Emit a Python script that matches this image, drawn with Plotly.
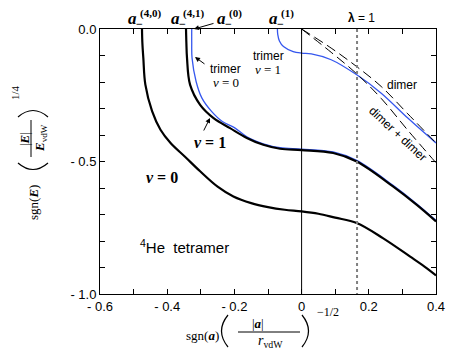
import plotly.graph_objects as go

# ── data ────────────────────────────────────────────────────────────
# tetramer v=0 (black, thick)
T0_X = [-0.475, -0.474, -0.471, -0.465, -0.445, -0.42, -0.39, -0.347, -0.302, -0.25,
        -0.203, -0.15, -0.1, -0.05, 0.0, 0.05, 0.1, 0.164, 0.243, 0.322, 0.372, 0.4]
T0_Y = [0.0, -0.05, -0.11, -0.21, -0.31, -0.38, -0.43, -0.482, -0.537, -0.595,
        -0.632, -0.657, -0.672, -0.682, -0.688, -0.697, -0.712, -0.732, -0.79, -0.858, -0.902, -0.93]

# tetramer v=1 (black, thick)
T1_X = [-0.344, -0.343, -0.341, -0.332, -0.302, -0.262, -0.213, -0.163, -0.114, -0.064,
        0.0, 0.094, 0.164, 0.272, 0.342, 0.4]
T1_Y = [0.0, -0.05, -0.11, -0.21, -0.286, -0.336, -0.374, -0.411, -0.437, -0.452,
        -0.457, -0.468, -0.5, -0.594, -0.663, -0.726]

# trimer v=0 (blue)
TR0_X = [-0.327, -0.327, -0.326, -0.314, -0.297, -0.268, -0.236, -0.2, -0.163, -0.114,
         -0.064, 0.0, 0.094, 0.164, 0.272, 0.342, 0.4]
TR0_Y = [0.0, -0.05, -0.11, -0.198, -0.26, -0.311, -0.349, -0.372, -0.407, -0.433,
         -0.448, -0.453, -0.464, -0.496, -0.59, -0.659, -0.722]

# trimer v=1 (blue)
TR1_X = [-0.072, -0.071, -0.066, -0.054, -0.025, 0.0, 0.029, 0.088, 0.163, 0.237, 0.316, 0.4]
TR1_Y = [0.0, -0.02, -0.045, -0.066, -0.085, -0.091, -0.094, -0.116, -0.172, -0.242, -0.336, -0.43]

# dimer and dimer + dimer thresholds (dashed)
DIM_X = [0.0, 0.088, 0.163, 0.237, 0.316, 0.4]
DIM_Y = [0.0, -0.072, -0.141, -0.217, -0.32, -0.43]
DD_X = [0.0, 0.088, 0.163, 0.237, 0.316, 0.4]
DD_Y = [0.0, -0.088, -0.168, -0.262, -0.382, -0.505]

LAMBDA1_X = 0.165

X_TICKS = [-0.6, -0.5, -0.4, -0.3, -0.2, -0.1, 0.0, 0.1, 0.2, 0.3, 0.4]
X_TEXT = ["- 0.6", "", "- 0.4", "", "- 0.2", "", "0", "", "0.2", "", "0.4"]
Y_TICKS = [0.0, -0.1, -0.2, -0.3, -0.4, -0.5, -0.6, -0.7, -0.8, -0.9, -1.0]
Y_TEXT = ["0.0", "", "", "", "", "- 0.5", "", "", "", "", "- 1.0"]

# page body adds an 8px margin, so the figure is drawn 8px smaller
OFF = 8
PLOT_W, PLOT_H = 336, 265
L, R, T, B = 100 - OFF, 27, 29 - OFF, 60
W, H = L + PLOT_W + R, T + PLOT_H + B
BLUE = "#3557ee"
SANS = "Liberation Sans, Arial, sans-serif"
SERIF = "Liberation Serif, Times New Roman, serif"


# pixel position in the reference picture -> paper coords (text placement only)
def px(x):
    return (x - OFF - L) / PLOT_W


def py(y):
    return (T + PLOT_H - (y - OFF)) / PLOT_H


fig = go.Figure()
fig.add_trace(go.Scatter(x=TR0_X, y=TR0_Y, mode="lines", line=dict(color=BLUE, width=1.3, shape="spline")))
fig.add_trace(go.Scatter(x=TR1_X, y=TR1_Y, mode="lines", line=dict(color=BLUE, width=1.3, shape="spline")))
fig.add_trace(go.Scatter(x=DIM_X, y=DIM_Y, mode="lines", line=dict(color="black", width=1, dash="10px,5px", shape="spline")))
fig.add_trace(go.Scatter(x=DD_X, y=DD_Y, mode="lines", line=dict(color="black", width=1, dash="10px,5px", shape="spline")))
fig.add_trace(go.Scatter(x=T1_X, y=T1_Y, mode="lines", line=dict(color="black", width=2.2, shape="spline")))
fig.add_trace(go.Scatter(x=T0_X, y=T0_Y, mode="lines", line=dict(color="black", width=2.2, shape="spline")))

fig.add_shape(type="line", x0=0, x1=0, y0=0, y1=-1, xref="x", yref="y", line=dict(color="black", width=1))
fig.add_shape(type="line", x0=LAMBDA1_X, x1=LAMBDA1_X, y0=0, y1=-1, xref="x", yref="y",
              line=dict(color="#808080", width=2, dash="dot"))

ann = []


def txt(x, y, text, size=12, family=SANS, angle=0, xanchor="center"):
    ann.append(dict(x=px(x), y=py(y), xref="paper", yref="paper", text=text, showarrow=False,
                    font=dict(size=size, family=family, color="black"), textangle=angle,
                    xanchor=xanchor, yanchor="middle", borderpad=0))


def arrow(tx, ty, hx, hy):
    ann.append(dict(x=px(hx), y=py(hy), ax=tx - hx, ay=ty - hy, xref="paper", yref="paper",
                    axref="pixel", ayref="pixel", text="", showarrow=True, arrowhead=2,
                    arrowsize=1, arrowwidth=1, arrowcolor="black"))


def curve(x0, y0, cx, cy, x1, y1, width=1.2):
    # a big bracket drawn as a quadratic curve, in reference pixels
    fig.add_shape(type="path", xref="paper", yref="paper",
                  path=f"M {px(x0)},{py(y0)} Q {px(cx)},{py(cy)} {px(x1)},{py(y1)}",
                  line=dict(color="black", width=width))


def bar(x0, y0, x1, y1):
    fig.add_shape(type="line", x0=px(x0), x1=px(x1), y0=py(y0), y1=py(y1), xref="paper", yref="paper",
                  line=dict(color="black", width=1))


# a_-^(n) labels above the frame
for ax_px, sup in [(132, "(4,0)"), (175, "(4,1)"), (221, "(0)"), (273, "(1)")]:
    txt(ax_px, 18, "<b><i>a</i></b>", size=17, family=SERIF)
    txt(ax_px + 7, 24, "<b>−</b>", size=12, family=SERIF)
    txt(ax_px + 7, 13, "<b>" + sup + "</b>", size=11, family=SERIF, xanchor="left")
arrow(215, 23, 194, 29)
txt(361, 18, "<b>λ</b> = 1", size=12)

txt(225, 69, "trimer", size=12)
txt(226, 83, "<i>v</i> = 0", size=13, family=SERIF)
arrow(206, 65, 195, 57)
txt(268, 56, "trimer", size=12)
txt(268, 70, "<i>v</i> = 1", size=13, family=SERIF)

txt(210, 142, "<b><i>v</i> = 1</b>", size=16, family=SERIF)
arrow(203, 132, 210, 118)
txt(162, 177, "<b><i>v</i> = 0</b>", size=16, family=SERIF)
txt(184, 246, "<sup>4</sup>He  tetramer", size=15)
txt(402, 85, "dimer", size=12)
txt(398, 134, "dimer + dimer", size=12, angle=43)

# x-axis title: sgn(a) (|a| / r_vdW)^(-1/2)
txt(202, 335, "sgn(<b><i>a</i></b>)", size=13, family=SERIF)
curve(228, 315, 215, 331, 228, 347)
txt(258, 323, "|<b><i>a</i></b>|", size=13, family=SERIF)
bar(238, 332, 300, 332)
txt(270, 341, "<i>r</i><sub>vdW</sub>", size=14, family=SERIF)
curve(302, 315, 315, 331, 302, 347)
txt(328, 312, "−1/2", size=12, family=SERIF)

# y-axis title: sgn(E) (|E| / E_vdW)^(1/4), rotated
txt(33, 203, "sgn(<b><i>E</i></b>)", size=13, family=SERIF, angle=-90)
curve(18, 163, 33, 176, 48, 163)
txt(24, 139, "|<b><i>E</i></b>|", size=13, family=SERIF, angle=-90)
bar(31, 120, 31, 157)
txt(40, 138, "<b><i>E</i></b><sub>vdW</sub>", size=13, family=SERIF, angle=-90)
curve(18, 117, 33, 104, 48, 117)
txt(15, 93, "1/4", size=11, family=SERIF, angle=-90)

axis_common = dict(showgrid=False, zeroline=False, showline=True, linecolor="black", linewidth=1,
                   mirror="ticks", ticks="inside", ticklen=5, tickcolor="black",
                   tickfont=dict(size=13, family=SANS, color="black"))

fig.update_xaxes(range=[-0.6, 0.4], tickvals=X_TICKS, ticktext=X_TEXT, **axis_common)
fig.update_yaxes(range=[-1.0, 0.0], tickvals=Y_TICKS, ticktext=Y_TEXT, **axis_common)

fig.update_layout(
    width=W, height=H, showlegend=False,
    margin=dict(l=L, r=R, t=T, b=B),
    plot_bgcolor="white", paper_bgcolor="white",
    annotations=ann,
)

fig.write_html("out.html")
